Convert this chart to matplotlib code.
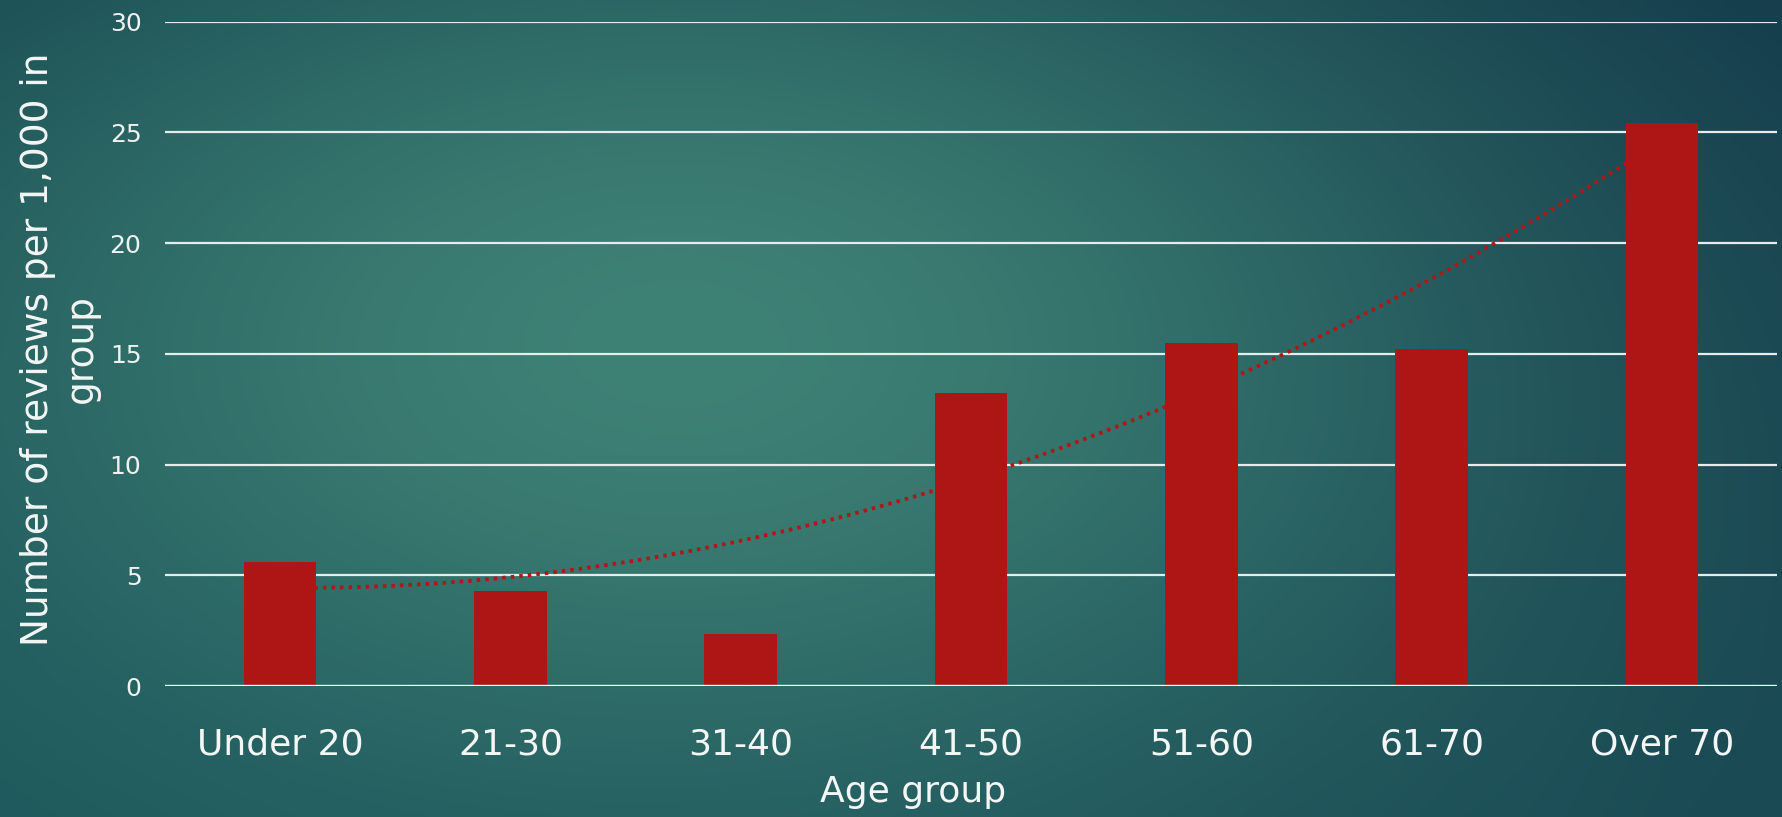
import numpy as np
import matplotlib
matplotlib.use("Agg")
import matplotlib.pyplot as plt
from matplotlib.colors import to_rgb

# Review rates by age group
age_groups = ["Under 20", "21-30", "31-40", "41-50", "51-60", "61-70", "Over 70"]
reviews_per_1000 = [5.6, 4.3, 2.35, 13.25, 15.5, 15.2, 25.4]
y_ticks = [0, 5, 10, 15, 20, 25, 30]

W, H, DPI = 1783, 817, 100
fig = plt.figure(figsize=(W / DPI, H / DPI), dpi=DPI)

# --- teal backdrop: soft radial glow over a darker corner blend ---
glow = np.array(to_rgb("#3e8175"))
corners = {"tl": "#1e5357", "tr": "#163e4d", "bl": "#1f5a5e", "br": "#1a4a54"}
cx, cy, sx, sy = 0.38, 0.42, 0.35, 0.45


def glow_weight(x, y):
    return np.exp(-0.5 * (((x - cx) / sx) ** 2 + ((y - cy) / sy) ** 2))


base = {}
for key, (px, py) in {"tl": (0, 0), "tr": (1, 0), "bl": (0, 1), "br": (1, 1)}.items():
    w = glow_weight(px, py)
    base[key] = (np.array(to_rgb(corners[key])) - w * glow) / (1 - w)

gx = np.linspace(0, 1, 400)
gy = np.linspace(0, 1, 200)
X, Y = np.meshgrid(gx, gy)
Xe, Ye = X[..., None], Y[..., None]
blend = (base["tl"] * (1 - Xe) * (1 - Ye) + base["tr"] * Xe * (1 - Ye)
         + base["bl"] * (1 - Xe) * Ye + base["br"] * Xe * Ye)
wgt = glow_weight(X, Y)[..., None]
img = np.clip(blend * (1 - wgt) + glow * wgt, 0, 1)

bg = fig.add_axes([0, 0, 1, 1], zorder=-10)
bg.imshow(img, extent=[0, 1, 0, 1], aspect="auto", interpolation="bicubic")
bg.axis("off")

# --- chart ---
left, right = 165 / W, 1777 / W
bottom, top = (H - 686) / H, (H - 21.6) / H
ax = fig.add_axes([left, bottom, right - left, top - bottom])
ax.patch.set_alpha(0)

x = np.arange(len(age_groups))
bar_color = "#ae1515"

for yv in y_ticks[1:]:
    ax.axhline(yv, color="#e6ebeb", lw=1.6, zorder=1)
ax.axhline(0, color="white", lw=2.4, zorder=4)

# second-order polynomial trendline
coef = np.polyfit(x, reviews_per_1000, 2)
xt = np.linspace(x[0], x[-1], 300)
ax.plot(xt, np.polyval(coef, xt), color="#b21616", lw=2.8,
        linestyle=(0, (0.9, 1.3)), dash_capstyle="butt", zorder=2)

ax.bar(x, reviews_per_1000, width=0.315, color=bar_color, zorder=3)

ax.set_xlim(-0.5, len(age_groups) - 0.5)
ax.set_ylim(0, 30)
ax.set_yticks(y_ticks)
ax.set_xticks(x)
ax.set_xticklabels(age_groups)
for s in ax.spines.values():
    s.set_visible(False)
ax.tick_params(axis="y", length=0, pad=17, labelsize=18, labelcolor="#eef2f2")
ax.tick_params(axis="x", length=0, pad=30, labelsize=26, labelcolor="#f4f6f6")

fig.text(913 / W, 1 - 792 / H, "Age group", ha="center", va="center",
         fontsize=26, color="#f4f6f6")
fig.text(60 / W, 1 - 349 / H, "Number of reviews per 1,000 in\ngroup",
         rotation=90, ha="center", va="center", multialignment="center",
         fontsize=27, color="#f4f6f6", linespacing=1.3)

fig.savefig("out.png", dpi=DPI)
